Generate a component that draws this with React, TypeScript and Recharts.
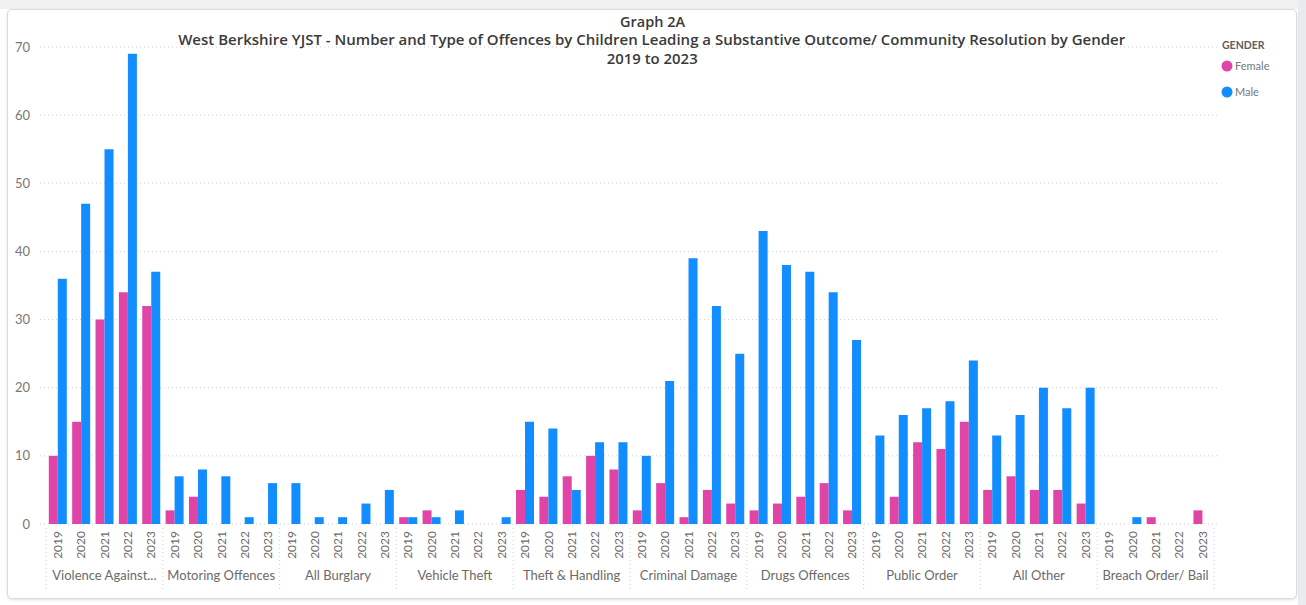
import React from 'react';
import { BarChart, Bar, XAxis, YAxis, CartesianGrid } from 'recharts';

const CATEGORIES = [
  'Violence Against...',
  'Motoring Offences',
  'All Burglary',
  'Vehicle Theft',
  'Theft & Handling',
  'Criminal Damage',
  'Drugs Offences',
  'Public Order',
  'All Other',
  'Breach Order/ Bail',
];
const YEARS = ['2019', '2020', '2021', '2022', '2023'];

// values per category, in year order 2019..2023 (null = no bar)
const FEMALE: (number | null)[] = [
  10, 15, 30, 34, 32,
  2, 4, null, null, null,
  null, null, null, null, null,
  1, 2, null, null, null,
  5, 4, 7, 10, 8,
  2, 6, 1, 5, 3,
  2, 3, 4, 6, 2,
  null, 4, 12, 11, 15,
  5, 7, 5, 5, 3,
  null, null, 1, null, 2,
];
const MALE: (number | null)[] = [
  36, 47, 55, 69, 37,
  7, 8, 7, 1, 6,
  6, 1, 1, 3, 5,
  1, 1, 2, null, 1,
  15, 14, 5, 12, 12,
  10, 21, 39, 32, 25,
  43, 38, 37, 34, 27,
  13, 16, 17, 18, 24,
  13, 16, 20, 17, 20,
  null, 1, null, null, null,
];
const Y_TICKS = [0, 10, 20, 30, 40, 50, 60, 70];
const SERIES = ['Female', 'Male'];
const COLORS = ['#E044A7', '#118DFF'];
const LEGEND_TITLE = 'GENDER';
const TITLE_LINES = [
  'Graph 2A',
  'West Berkshire YJST - Number and Type of Offences by Children Leading a Substantive Outcome/ Community Resolution by Gender',
  '2019 to 2023',
];

const data = CATEGORIES.flatMap((cat, ci) =>
  YEARS.map((year, yi) => ({
    id: `${ci}|${year}`,
    ci,
    yi,
    cat,
    year,
    Female: FEMALE[ci * YEARS.length + yi],
    Male: MALE[ci * YEARS.length + yi],
  }))
);
const byId: Record<string, (typeof data)[number]> = {};
data.forEach((d) => (byId[d.id] = d));

const W = 1306;
const H = 605;
const MARGIN = { top: 47, right: 87, bottom: 0, left: 0 };
const Y_W = 40;
const PAD = { left: 6, right: 5 };
const X_H = 81;
const BAND = (W - MARGIN.left - MARGIN.right - Y_W - PAD.left - PAD.right) / data.length;
const FONT = 'Lato, "Open Sans", sans-serif';
const TITLE_FONT = '"Open Sans", Roboto, sans-serif';

const XTick = (props: any) => {
  const { x, y, payload } = props;
  const d = byId[payload.value];
  if (!d) return null;
  const n = YEARS.length;
  const sepStyle = { stroke: '#cfcfcf', strokeDasharray: '1 3', strokeWidth: 1 };
  return (
    <g>
      <text
        x={x}
        y={y + 7}
        transform={`rotate(-90, ${x}, ${y + 7})`}
        textAnchor="end"
        dy="0.36em"
        fontSize={12}
        fontFamily={FONT}
        fill="#6b6b6b"
      >
        {d.year}
      </text>
      {d.yi === 0 && (
        <line x1={x - BAND / 2} x2={x - BAND / 2} y1={y + 4} y2={y + 66} {...sepStyle} />
      )}
      {d.ci === CATEGORIES.length - 1 && d.yi === n - 1 && (
        <line x1={x + BAND / 2} x2={x + BAND / 2} y1={y + 4} y2={y + 66} {...sepStyle} />
      )}
      {d.yi === Math.floor(n / 2) && (
        <text x={x} y={y + 56} textAnchor="middle" fontSize={13} fontFamily={FONT} fill="#6b6b6b">
          {d.cat}
        </text>
      )}
    </g>
  );
};

export default function App() {
  return (
    <div style={{ position: 'absolute', left: 0, top: 0, width: W, height: H, background: '#ffffff', overflow: 'hidden' }}>
      <div style={{ position: 'absolute', left: 0, top: 0, width: W, height: 9, background: '#f0f0f0' }} />
      <div style={{ position: 'absolute', left: 1298, top: 0, width: 8, height: H, background: '#e9ebef' }} />
      <div
        style={{
          position: 'absolute',
          left: 7,
          top: 9,
          width: 1288,
          height: 588,
          background: '#ffffff',
          border: '1px solid #dcdcdc',
          borderRadius: 5,
          boxShadow: '0 1px 3px rgba(0,0,0,0.12)',
        }}
      />
      <div style={{ position: 'absolute', left: 0, top: 0 }}>
        <BarChart
          width={W}
          height={H}
          data={data}
          margin={MARGIN}
          barCategoryGap="12%"
          barGap={0}
          style={{ fontFamily: FONT }}
        >
          <CartesianGrid vertical={false} stroke="#cfcfcf" strokeDasharray="1 3" />
          <XAxis
            dataKey="id"
            interval={0}
            height={X_H}
            axisLine={false}
            tickLine={false}
            tickSize={0}
            tickMargin={0}
            padding={PAD}
            tick={<XTick />}
          />
          <YAxis
            domain={[0, 70]}
            ticks={Y_TICKS}
            width={Y_W}
            axisLine={false}
            tickLine={false}
            tickSize={6}
            tickMargin={4}
            tick={{ fill: '#777777', fontSize: 13, fontFamily: FONT }}
          />
          {SERIES.map((s, i) => (
            <Bar key={s} dataKey={s} fill={COLORS[i]} isAnimationActive={false} />
          ))}
        </BarChart>
      </div>
      <svg width={W} height={H} style={{ position: 'absolute', left: 0, top: 0, pointerEvents: 'none' }}>
        <text x={652.5} y={26.5} textAnchor="middle" fontSize={14} fontWeight={600} fontFamily={TITLE_FONT} fill="#3a3a3a" textLength={65} lengthAdjust="spacingAndGlyphs">
          {TITLE_LINES[0]}
        </text>
        <text x={651.7} y={45} textAnchor="middle" fontSize={14} fontWeight={600} fontFamily={TITLE_FONT} fill="#3a3a3a" textLength={947} lengthAdjust="spacingAndGlyphs">
          {TITLE_LINES[1]}
        </text>
        <text x={652.2} y={63.5} textAnchor="middle" fontSize={14} fontWeight={600} fontFamily={TITLE_FONT} fill="#3a3a3a" textLength={91} lengthAdjust="spacingAndGlyphs">
          {TITLE_LINES[2]}
        </text>
        <text x={1222} y={49} fontSize={10.5} fontWeight={700} fontFamily={FONT} fill="#605E5C">
          {LEGEND_TITLE}
        </text>
        {SERIES.map((s, i) => (
          <g key={s}>
            <circle cx={1227} cy={66 + i * 26} r={5.5} fill={COLORS[i]} />
            <text x={1235} y={70 + i * 26} fontSize={11} fontFamily={FONT} fill="#777">
              {s}
            </text>
          </g>
        ))}
      </svg>
    </div>
  );
}
